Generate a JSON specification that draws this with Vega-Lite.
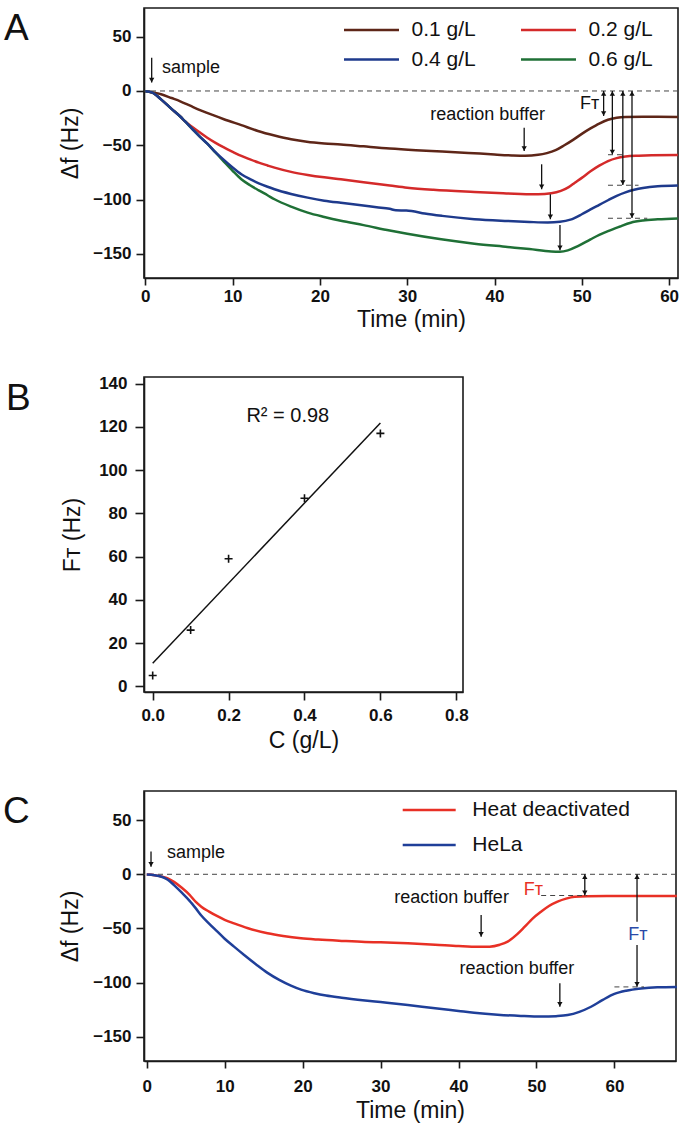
{
  "$schema": "https://vega.github.io/schema/vega-lite/v6.json",
  "background": "white",
  "padding": {"left": 2, "top": 7, "right": 5, "bottom": 5},
  "bounds": "flush",
  "spacing": 99,
  "resolve": {"scale": {"color": "independent"}, "legend": {"color": "independent"}},
  "config": {
    "view": {"stroke": "#1a1a1a", "strokeWidth": 1.6},
    "axis": {
      "grid": false, "domainColor": "#1a1a1a", "domainWidth": 1.6,
      "tickColor": "#1a1a1a", "tickWidth": 1.6, "tickSize": 7,
      "labelFont": "Liberation Sans", "labelFontWeight": "bold", "labelFontSize": 17, "labelColor": "#111",
      "titleFont": "Liberation Sans", "titleFontWeight": "normal", "titleFontSize": 23, "titleColor": "#111"
    },
    "text": {"font": "Liberation Sans", "fontSize": 18, "color": "#111"},
    "legend": {"labelFont": "Liberation Sans", "labelColor": "#111"}
  },
  "datasets": {
    "curvesA": [
      {"series":"0.1 g/L","t":0,"v":-0.3},{"series":"0.1 g/L","t":1,"v":-1.5},{"series":"0.1 g/L","t":1.8,"v":-3},{"series":"0.1 g/L","t":3,"v":-6.5},{"series":"0.1 g/L","t":4,"v":-9.5},{"series":"0.1 g/L","t":5.2,"v":-13.8},{"series":"0.1 g/L","t":7,"v":-20},{"series":"0.1 g/L","t":9,"v":-26},{"series":"0.1 g/L","t":11,"v":-31.5},{"series":"0.1 g/L","t":12.9,"v":-36.8},{"series":"0.1 g/L","t":14.8,"v":-41},{"series":"0.1 g/L","t":16.7,"v":-44.5},{"series":"0.1 g/L","t":18.5,"v":-46.8},{"series":"0.1 g/L","t":20.5,"v":-48.3},{"series":"0.1 g/L","t":22.4,"v":-49.2},{"series":"0.1 g/L","t":25,"v":-51},{"series":"0.1 g/L","t":28,"v":-53},{"series":"0.1 g/L","t":31,"v":-54.5},{"series":"0.1 g/L","t":34,"v":-55.7},{"series":"0.1 g/L","t":37,"v":-57},{"series":"0.1 g/L","t":40,"v":-58.5},{"series":"0.1 g/L","t":42,"v":-59.3},{"series":"0.1 g/L","t":43.5,"v":-59.6},{"series":"0.1 g/L","t":45,"v":-58.8},{"series":"0.1 g/L","t":46,"v":-57.2},{"series":"0.1 g/L","t":47,"v":-54.5},{"series":"0.1 g/L","t":48,"v":-50},{"series":"0.1 g/L","t":49,"v":-45},{"series":"0.1 g/L","t":50,"v":-39.5},{"series":"0.1 g/L","t":51,"v":-34.5},{"series":"0.1 g/L","t":52,"v":-30},{"series":"0.1 g/L","t":53,"v":-26.5},{"series":"0.1 g/L","t":54,"v":-24.7},{"series":"0.1 g/L","t":55,"v":-24},{"series":"0.1 g/L","t":57,"v":-23.8},{"series":"0.1 g/L","t":61,"v":-24},
      {"series":"0.2 g/L","t":0,"v":-0.3},{"series":"0.2 g/L","t":0.8,"v":-1.5},{"series":"0.2 g/L","t":1.8,"v":-7.7},{"series":"0.2 g/L","t":3,"v":-16.5},{"series":"0.2 g/L","t":4,"v":-23.5},{"series":"0.2 g/L","t":4.5,"v":-27.6},{"series":"0.2 g/L","t":5.5,"v":-33.8},{"series":"0.2 g/L","t":6.3,"v":-38.5},{"series":"0.2 g/L","t":7.1,"v":-43},{"series":"0.2 g/L","t":8,"v":-47.5},{"series":"0.2 g/L","t":9,"v":-52},{"series":"0.2 g/L","t":10,"v":-56},{"series":"0.2 g/L","t":11,"v":-59.8},{"series":"0.2 g/L","t":12,"v":-63},{"series":"0.2 g/L","t":13,"v":-66},{"series":"0.2 g/L","t":14,"v":-68.6},{"series":"0.2 g/L","t":14.8,"v":-70.6},{"series":"0.2 g/L","t":16.7,"v":-74.5},{"series":"0.2 g/L","t":18.6,"v":-77.3},{"series":"0.2 g/L","t":20.5,"v":-79.5},{"series":"0.2 g/L","t":22.4,"v":-81.3},{"series":"0.2 g/L","t":25,"v":-84},{"series":"0.2 g/L","t":28,"v":-87},{"series":"0.2 g/L","t":30,"v":-89},{"series":"0.2 g/L","t":33,"v":-91},{"series":"0.2 g/L","t":37.7,"v":-93},{"series":"0.2 g/L","t":41,"v":-94.2},{"series":"0.2 g/L","t":43,"v":-94.8},{"series":"0.2 g/L","t":45,"v":-95.1},{"series":"0.2 g/L","t":46.5,"v":-94.2},{"series":"0.2 g/L","t":47.6,"v":-92},{"series":"0.2 g/L","t":48.5,"v":-88.5},{"series":"0.2 g/L","t":49.2,"v":-84.5},{"series":"0.2 g/L","t":50,"v":-80},{"series":"0.2 g/L","t":51,"v":-74},{"series":"0.2 g/L","t":52,"v":-68.8},{"series":"0.2 g/L","t":53,"v":-64.5},{"series":"0.2 g/L","t":54,"v":-61.8},{"series":"0.2 g/L","t":55,"v":-60.4},{"series":"0.2 g/L","t":56.5,"v":-59.6},{"series":"0.2 g/L","t":58,"v":-59.2},{"series":"0.2 g/L","t":61,"v":-59},
      {"series":"0.6 g/L","t":0,"v":-0.3},{"series":"0.6 g/L","t":0.8,"v":-1.5},{"series":"0.6 g/L","t":1.8,"v":-7.7},{"series":"0.6 g/L","t":3,"v":-16.5},{"series":"0.6 g/L","t":4,"v":-23.5},{"series":"0.6 g/L","t":4.5,"v":-27.6},{"series":"0.6 g/L","t":5.5,"v":-36},{"series":"0.6 g/L","t":6.3,"v":-42.5},{"series":"0.6 g/L","t":7.1,"v":-48.5},{"series":"0.6 g/L","t":8,"v":-56.3},{"series":"0.6 g/L","t":9,"v":-65},{"series":"0.6 g/L","t":10,"v":-73.5},{"series":"0.6 g/L","t":11,"v":-81.3},{"series":"0.6 g/L","t":12,"v":-86.8},{"series":"0.6 g/L","t":13,"v":-91.5},{"series":"0.6 g/L","t":14,"v":-96},{"series":"0.6 g/L","t":14.8,"v":-99.7},{"series":"0.6 g/L","t":16.7,"v":-106.5},{"series":"0.6 g/L","t":18.6,"v":-112},{"series":"0.6 g/L","t":20.5,"v":-116},{"series":"0.6 g/L","t":22.4,"v":-119.5},{"series":"0.6 g/L","t":25,"v":-123.5},{"series":"0.6 g/L","t":28,"v":-128.5},{"series":"0.6 g/L","t":30,"v":-131.5},{"series":"0.6 g/L","t":33.9,"v":-136.6},{"series":"0.6 g/L","t":37.7,"v":-140.6},{"series":"0.6 g/L","t":41.5,"v":-143.6},{"series":"0.6 g/L","t":44,"v":-145.6},{"series":"0.6 g/L","t":46.5,"v":-147.8},{"series":"0.6 g/L","t":47.5,"v":-148},{"series":"0.6 g/L","t":48.4,"v":-146.8},{"series":"0.6 g/L","t":49.5,"v":-143},{"series":"0.6 g/L","t":51,"v":-136.6},{"series":"0.6 g/L","t":52,"v":-132.5},{"series":"0.6 g/L","t":53,"v":-129},{"series":"0.6 g/L","t":54.3,"v":-125},{"series":"0.6 g/L","t":55.6,"v":-121.3},{"series":"0.6 g/L","t":57,"v":-119.3},{"series":"0.6 g/L","t":58.7,"v":-118.2},{"series":"0.6 g/L","t":61,"v":-117.4},
      {"series":"0.4 g/L","t":0,"v":-0.3},{"series":"0.4 g/L","t":0.8,"v":-1.5},{"series":"0.4 g/L","t":1.8,"v":-7.7},{"series":"0.4 g/L","t":3,"v":-16.5},{"series":"0.4 g/L","t":4,"v":-23.5},{"series":"0.4 g/L","t":4.5,"v":-27.6},{"series":"0.4 g/L","t":5.5,"v":-36},{"series":"0.4 g/L","t":6.3,"v":-42.5},{"series":"0.4 g/L","t":7.1,"v":-48.5},{"series":"0.4 g/L","t":8,"v":-56},{"series":"0.4 g/L","t":9,"v":-63.5},{"series":"0.4 g/L","t":10,"v":-70.5},{"series":"0.4 g/L","t":11,"v":-76.7},{"series":"0.4 g/L","t":12,"v":-81.2},{"series":"0.4 g/L","t":13,"v":-85},{"series":"0.4 g/L","t":14,"v":-88.2},{"series":"0.4 g/L","t":14.8,"v":-90.5},{"series":"0.4 g/L","t":16.7,"v":-94.8},{"series":"0.4 g/L","t":18.6,"v":-98.2},{"series":"0.4 g/L","t":20.5,"v":-101},{"series":"0.4 g/L","t":22.4,"v":-103},{"series":"0.4 g/L","t":24.5,"v":-105},{"series":"0.4 g/L","t":26.5,"v":-107},{"series":"0.4 g/L","t":28,"v":-108.5},{"series":"0.4 g/L","t":28.7,"v":-109.8},{"series":"0.4 g/L","t":29.9,"v":-110.1},{"series":"0.4 g/L","t":30.5,"v":-110.6},{"series":"0.4 g/L","t":32,"v":-112.8},{"series":"0.4 g/L","t":34,"v":-115},{"series":"0.4 g/L","t":37.7,"v":-118},{"series":"0.4 g/L","t":41.5,"v":-119.7},{"series":"0.4 g/L","t":44,"v":-120.6},{"series":"0.4 g/L","t":46.1,"v":-121.1},{"series":"0.4 g/L","t":47.5,"v":-120.5},{"series":"0.4 g/L","t":48.7,"v":-118.5},{"series":"0.4 g/L","t":50,"v":-113.5},{"series":"0.4 g/L","t":51,"v":-109},{"series":"0.4 g/L","t":52,"v":-104.8},{"series":"0.4 g/L","t":53,"v":-100.6},{"series":"0.4 g/L","t":54,"v":-96.5},{"series":"0.4 g/L","t":55,"v":-93.3},{"series":"0.4 g/L","t":56,"v":-91},{"series":"0.4 g/L","t":57,"v":-89.3},{"series":"0.4 g/L","t":58.7,"v":-87.7},{"series":"0.4 g/L","t":61,"v":-87}
    ],
    "zero": [{"v": 0}],
    "arrowsA": [
      {"t":0.73,"v1":30.7,"v2":7.7},{"t":43.4,"v1":-33.8,"v2":-55.2},{"t":45.4,"v1":-67.5,"v2":-90.5},{"t":46.4,"v1":-95.1,"v2":-118.1},{"t":47.5,"v1":-123.4,"v2":-146.7},
      {"t":52.5,"v1":0,"v2":-23},{"t":53.5,"v1":0,"v2":-58.5},{"t":54.7,"v1":0,"v2":-86.6},{"t":55.75,"v1":0,"v2":-117}
    ],
    "headsDownA": [
      {"t":0.73,"v":7.7},{"t":43.4,"v":-55.2},{"t":45.4,"v":-90.5},{"t":46.4,"v":-118.1},{"t":47.5,"v":-146.7},
      {"t":52.5,"v":-23},{"t":53.5,"v":-58.5},{"t":54.7,"v":-86.6},{"t":55.75,"v":-117}
    ],
    "headsUpA": [{"t":52.5,"v":0},{"t":53.5,"v":0},{"t":54.7,"v":0},{"t":55.75,"v":0}],
    "dashA": [{"t1":53,"t2":55,"v":-58.7},{"t1":53,"t2":56.5,"v":-86.8},{"t1":53,"t2":57.5,"v":-117.2}],
    "labelsA": [
      {"t":5.23,"v":20.7,"label":"sample"},
      {"t":39.2,"v":-22,"label":"reaction buffer"},
      {"t":50.9,"v":-12,"label":"Fᴛ"}
    ],
    "pointsB": [
      {"c":0,"ft":5},{"c":0.1,"ft":26},{"c":0.2,"ft":59},{"c":0.4,"ft":87},{"c":0.6,"ft":117}
    ],
    "fitB": [{"c":0,"ft":10.7},{"c":0.6,"ft":121.8}],
    "labelB": [{"c":0.356,"ft":125,"label":"R² = 0.98"}],
    "curvesC": [
      {"series":"Heat deactivated","t":0,"v":-0.3},{"series":"Heat deactivated","t":1,"v":-0.8},{"series":"Heat deactivated","t":2,"v":-2.2},{"series":"Heat deactivated","t":2.7,"v":-3.7},{"series":"Heat deactivated","t":3.5,"v":-7},{"series":"Heat deactivated","t":4.5,"v":-12.5},{"series":"Heat deactivated","t":5.5,"v":-19},{"series":"Heat deactivated","t":6.3,"v":-25.5},{"series":"Heat deactivated","t":7,"v":-29.9},{"series":"Heat deactivated","t":8,"v":-34.5},{"series":"Heat deactivated","t":9,"v":-38.5},{"series":"Heat deactivated","t":10,"v":-42},{"series":"Heat deactivated","t":11.2,"v":-45.3},{"series":"Heat deactivated","t":13,"v":-49.8},{"series":"Heat deactivated","t":15.5,"v":-54.5},{"series":"Heat deactivated","t":17.5,"v":-57},{"series":"Heat deactivated","t":19.8,"v":-59.1},{"series":"Heat deactivated","t":22,"v":-60.3},{"series":"Heat deactivated","t":25,"v":-61.5},{"series":"Heat deactivated","t":28,"v":-62.5},{"series":"Heat deactivated","t":30,"v":-62.8},{"series":"Heat deactivated","t":33.5,"v":-63.7},{"series":"Heat deactivated","t":37,"v":-65},{"series":"Heat deactivated","t":40,"v":-66.3},{"series":"Heat deactivated","t":42.5,"v":-67},{"series":"Heat deactivated","t":44,"v":-66.8},{"series":"Heat deactivated","t":45.3,"v":-65},{"series":"Heat deactivated","t":46.3,"v":-62.2},{"series":"Heat deactivated","t":47.5,"v":-55.5},{"series":"Heat deactivated","t":48.5,"v":-48.4},{"series":"Heat deactivated","t":49.5,"v":-41},{"series":"Heat deactivated","t":50.6,"v":-34.5},{"series":"Heat deactivated","t":51.6,"v":-29.3},{"series":"Heat deactivated","t":52.7,"v":-25.3},{"series":"Heat deactivated","t":53.8,"v":-22.5},{"series":"Heat deactivated","t":54.9,"v":-20.8},{"series":"Heat deactivated","t":56.5,"v":-20.2},{"series":"Heat deactivated","t":59,"v":-20},{"series":"Heat deactivated","t":63,"v":-20},{"series":"Heat deactivated","t":68,"v":-20},
      {"series":"HeLa","t":0,"v":-0.3},{"series":"HeLa","t":1,"v":-0.8},{"series":"HeLa","t":2,"v":-2.5},{"series":"HeLa","t":2.7,"v":-5},{"series":"HeLa","t":3.5,"v":-10},{"series":"HeLa","t":4.5,"v":-17},{"series":"HeLa","t":5.5,"v":-24.5},{"series":"HeLa","t":6.3,"v":-31.5},{"series":"HeLa","t":7,"v":-38},{"series":"HeLa","t":8,"v":-45.5},{"series":"HeLa","t":9,"v":-52.5},{"series":"HeLa","t":10,"v":-59.5},{"series":"HeLa","t":11.2,"v":-66.8},{"series":"HeLa","t":12.5,"v":-74.5},{"series":"HeLa","t":14,"v":-83},{"series":"HeLa","t":15.5,"v":-91},{"series":"HeLa","t":17,"v":-97.5},{"series":"HeLa","t":18.5,"v":-102.8},{"series":"HeLa","t":19.8,"v":-106.5},{"series":"HeLa","t":21.5,"v":-109.8},{"series":"HeLa","t":23,"v":-112},{"series":"HeLa","t":25,"v":-114},{"series":"HeLa","t":28,"v":-116.5},{"series":"HeLa","t":30,"v":-118},{"series":"HeLa","t":33.5,"v":-120.7},{"series":"HeLa","t":37,"v":-123.8},{"series":"HeLa","t":40,"v":-126.2},{"series":"HeLa","t":42,"v":-127.8},{"series":"HeLa","t":45,"v":-129.6},{"series":"HeLa","t":48,"v":-130.8},{"series":"HeLa","t":50.6,"v":-131.4},{"series":"HeLa","t":52.5,"v":-131},{"series":"HeLa","t":54,"v":-130},{"series":"HeLa","t":55.5,"v":-127},{"series":"HeLa","t":57,"v":-122.3},{"series":"HeLa","t":58.5,"v":-116},{"series":"HeLa","t":60,"v":-110.5},{"series":"HeLa","t":61.5,"v":-107.5},{"series":"HeLa","t":63.4,"v":-105.4},{"series":"HeLa","t":65.5,"v":-104.3},{"series":"HeLa","t":68,"v":-104}
    ],
    "arrowsC": [
      {"t":0.55,"v1":21,"v2":7},{"t":42.9,"v1":-37.6,"v2":-57.6},{"t":53.0,"v1":-100.7,"v2":-122.3},
      {"t":56.2,"v1":0,"v2":-19.5},{"t":62.9,"v1":0,"v2":-43.8},{"t":62.9,"v1":-65.3,"v2":-103.8}
    ],
    "headsDownC": [{"t":0.55,"v":7},{"t":42.9,"v":-57.6},{"t":53.0,"v":-122.3},{"t":56.2,"v":-19.5},{"t":62.9,"v":-103.8}],
    "headsUpC": [{"t":56.2,"v":0},{"t":62.9,"v":0}],
    "dashC": [{"t1":50.6,"t2":56.5,"v":-19.6},{"t1":60,"t2":63.8,"v":-104}],
    "labelsC": [
      {"t":6.33,"v":19.4,"label":"sample"},
      {"t":39.1,"v":-22.2,"label":"reaction buffer"},
      {"t":47.5,"v":-87.8,"label":"reaction buffer"}
    ],
    "ftC": [
      {"t":49.6,"v":-14.5,"label":"Fᴛ","series":"Heat deactivated"},
      {"t":63.0,"v":-56,"label":"Fᴛ","series":"HeLa"}
    ]
  },
  "vconcat": [
    {
      "width": 534, "height": 270,
      "title": {"text": "A", "orient": "left", "angle": 0, "anchor": "end", "frame": "group", "align": "left", "baseline": "top", "offset": 31, "dy": 3, "fontSize": 37, "font": "Liberation Sans", "fontWeight": "normal", "color": "#111"},
      "encoding": {
        "x": {"type": "quantitative", "scale": {"domain": [-0.15, 61.02], "nice": false, "zero": false}},
        "y": {"type": "quantitative", "scale": {"domain": [-172.2, 76.4], "nice": false, "zero": false}}
      },
      "layer": [
        {"data": {"name": "zero"}, "mark": {"type": "rule", "strokeDash": [5, 4], "color": "#444", "strokeWidth": 1}, "encoding": {"y": {"field": "v", "type": "quantitative"}}},
        {"data": {"name": "curvesA"}, "mark": {"type": "line", "interpolate": "monotone", "strokeWidth": 2.5},
         "encoding": {
           "x": {"field": "t", "type": "quantitative", "axis": {"values": [0,10,20,30,40,50,60], "title": "Time (min)", "labelPadding": 3, "titlePadding": 4}},
           "y": {"field": "v", "type": "quantitative", "axis": {"values": [-150,-100,-50,0,50], "title": "Δf (Hz)", "tickSize": 8, "labelPadding": 5, "titlePadding": 10}},
           "color": {"field": "series", "type": "nominal",
             "scale": {"domain": ["0.1 g/L","0.2 g/L","0.4 g/L","0.6 g/L"], "range": ["#5e2618","#d42a2a","#1e3a8c","#1f7036"]},
             "legend": {"orient": "none", "legendX": 212.5, "legendY": 7, "columns": 2, "direction": "horizontal", "title": null, "symbolType": "M-2,0L2,0", "symbolSize": 756, "symbolStrokeWidth": 2.5, "labelFontSize": 21, "columnPadding": 39, "rowPadding": 4.5, "labelOffset": 25, "padding": 0}}
         }},
        {"data": {"name": "arrowsA"}, "mark": {"type": "rule", "color": "#111", "strokeWidth": 1.3}, "encoding": {"x": {"field": "t", "type": "quantitative"}, "y": {"field": "v1", "type": "quantitative"}, "y2": {"field": "v2"}}},
        {"data": {"name": "headsDownA"}, "mark": {"type": "point", "shape": "triangle-down", "filled": true, "color": "#111", "size": 28, "opacity": 1}, "encoding": {"x": {"field": "t", "type": "quantitative"}, "y": {"field": "v", "type": "quantitative"}, "yOffset": {"value": -2.5}}},
        {"data": {"name": "headsUpA"}, "mark": {"type": "point", "shape": "triangle-up", "filled": true, "color": "#111", "size": 28, "opacity": 1}, "encoding": {"x": {"field": "t", "type": "quantitative"}, "y": {"field": "v", "type": "quantitative"}, "yOffset": {"value": 2.5}}},
        {"data": {"name": "dashA"}, "mark": {"type": "rule", "strokeDash": [5, 4], "color": "#444", "strokeWidth": 1}, "encoding": {"x": {"field": "t1", "type": "quantitative"}, "x2": {"field": "t2"}, "y": {"field": "v", "type": "quantitative"}}},
        {"data": {"name": "labelsA"}, "mark": {"type": "text", "align": "center", "baseline": "middle"}, "encoding": {"x": {"field": "t", "type": "quantitative"}, "y": {"field": "v", "type": "quantitative"}, "text": {"field": "label"}}}
      ]
    },
    {
      "width": 319, "height": 315,
      "title": {"text": "B", "orient": "left", "angle": 0, "anchor": "end", "frame": "group", "align": "left", "baseline": "top", "offset": 31, "dy": 4, "fontSize": 37, "font": "Liberation Sans", "fontWeight": "normal", "color": "#111"},
      "encoding": {
        "x": {"type": "quantitative", "scale": {"domain": [-0.0229, 0.8177], "nice": false, "zero": false}},
        "y": {"type": "quantitative", "scale": {"domain": [-2.63, 143.1], "nice": false, "zero": false}}
      },
      "layer": [
        {"data": {"name": "fitB"}, "mark": {"type": "line", "color": "#111", "strokeWidth": 1.5},
         "encoding": {
           "x": {"field": "c", "type": "quantitative", "axis": {"values": [0,0.2,0.4,0.6,0.8], "format": ".1f", "title": "C (g/L)", "tickSize": 8, "labelPadding": 7, "titlePadding": 6}},
           "y": {"field": "ft", "type": "quantitative", "axis": {"values": [0,20,40,60,80,100,120,140], "title": "Fᴛ (Hz)", "tickSize": 9, "labelPadding": 8, "titlePadding": 14}}
         }},
        {"data": {"name": "pointsB"}, "mark": {"type": "point", "shape": "M-1,0L1,0M0,-1L0,1", "filled": false, "stroke": "#111", "strokeWidth": 1.6, "size": 64, "opacity": 1}, "encoding": {"x": {"field": "c", "type": "quantitative"}, "y": {"field": "ft", "type": "quantitative"}}},
        {"data": {"name": "labelB"}, "mark": {"type": "text", "align": "center", "baseline": "middle", "fontSize": 20}, "encoding": {"x": {"field": "c", "type": "quantitative"}, "y": {"field": "ft", "type": "quantitative"}, "text": {"field": "label"}}}
      ]
    },
    {
      "width": 532, "height": 270,
      "title": {"text": "C", "orient": "left", "angle": 0, "anchor": "end", "frame": "group", "align": "left", "baseline": "top", "offset": 30, "dy": 3, "fontSize": 37, "font": "Liberation Sans", "fontWeight": "normal", "color": "#111"},
      "encoding": {
        "x": {"type": "quantitative", "scale": {"domain": [-0.35, 67.9], "nice": false, "zero": false}},
        "y": {"type": "quantitative", "scale": {"domain": [-172.4, 76.9], "nice": false, "zero": false}}
      },
      "layer": [
        {"data": {"name": "zero"}, "mark": {"type": "rule", "strokeDash": [5, 4], "color": "#444", "strokeWidth": 1}, "encoding": {"y": {"field": "v", "type": "quantitative"}}},
        {"data": {"name": "curvesC"}, "mark": {"type": "line", "interpolate": "monotone", "strokeWidth": 2.5},
         "encoding": {
           "x": {"field": "t", "type": "quantitative", "axis": {"values": [0,10,20,30,40,50,60], "title": "Time (min)", "labelPadding": 10, "titlePadding": 5}},
           "y": {"field": "v", "type": "quantitative", "axis": {"values": [-150,-100,-50,0,50], "title": "Δf (Hz)", "tickSize": 8, "labelPadding": 5, "titlePadding": 10}},
           "color": {"field": "series", "type": "nominal",
             "scale": {"domain": ["Heat deactivated","HeLa"], "range": ["#e83025","#1f3f99"]},
             "legend": {"orient": "none", "legendX": 270.7, "legendY": 4.5, "columns": 1, "title": null, "symbolType": "M-2,0L2,0", "symbolSize": 702, "symbolStrokeWidth": 2.5, "labelFontSize": 21, "rowPadding": 10, "labelOffset": 28.6, "padding": 0}}
         }},
        {"data": {"name": "arrowsC"}, "mark": {"type": "rule", "color": "#111", "strokeWidth": 1.3}, "encoding": {"x": {"field": "t", "type": "quantitative"}, "y": {"field": "v1", "type": "quantitative"}, "y2": {"field": "v2"}}},
        {"data": {"name": "headsDownC"}, "mark": {"type": "point", "shape": "triangle-down", "filled": true, "color": "#111", "size": 28, "opacity": 1}, "encoding": {"x": {"field": "t", "type": "quantitative"}, "y": {"field": "v", "type": "quantitative"}, "yOffset": {"value": -2.5}}},
        {"data": {"name": "headsUpC"}, "mark": {"type": "point", "shape": "triangle-up", "filled": true, "color": "#111", "size": 28, "opacity": 1}, "encoding": {"x": {"field": "t", "type": "quantitative"}, "y": {"field": "v", "type": "quantitative"}, "yOffset": {"value": 2.5}}},
        {"data": {"name": "dashC"}, "mark": {"type": "rule", "strokeDash": [5, 4], "color": "#444", "strokeWidth": 1}, "encoding": {"x": {"field": "t1", "type": "quantitative"}, "x2": {"field": "t2"}, "y": {"field": "v", "type": "quantitative"}}},
        {"data": {"name": "labelsC"}, "mark": {"type": "text", "align": "center", "baseline": "middle"}, "encoding": {"x": {"field": "t", "type": "quantitative"}, "y": {"field": "v", "type": "quantitative"}, "text": {"field": "label"}}},
        {"data": {"name": "ftC"}, "transform": [{"filter": "datum.series === 'Heat deactivated'"}], "mark": {"type": "text", "align": "center", "baseline": "middle", "color": "#e83025"}, "encoding": {"x": {"field": "t", "type": "quantitative"}, "y": {"field": "v", "type": "quantitative"}, "text": {"field": "label"}}},
        {"data": {"name": "ftC"}, "transform": [{"filter": "datum.series === 'HeLa'"}], "mark": {"type": "text", "align": "center", "baseline": "middle", "color": "#2a4aa8"}, "encoding": {"x": {"field": "t", "type": "quantitative"}, "y": {"field": "v", "type": "quantitative"}, "text": {"field": "label"}}}
      ]
    }
  ]
}
